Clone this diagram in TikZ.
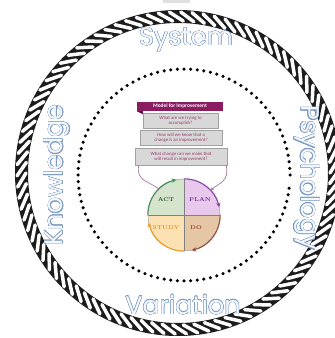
\documentclass[tikz,border=0pt]{standalone}
\usepackage{fontspec}
\usepackage{contour}
\usetikzlibrary{arrows.meta}
\newfontfamily\labelfont{Poppins}
\newfontfamily\boxfont{Carlito}

\definecolor{ropeink}{RGB}{28,28,28}
\definecolor{labelblue}{RGB}{125,155,195}
\definecolor{labelfill}{RGB}{244,247,252}
\definecolor{headpurple}{RGB}{139,28,98}
\definecolor{headfold}{RGB}{95,15,65}
\definecolor{qtext}{RGB}{150,60,110}
\definecolor{qfill}{RGB}{216,216,216}
\definecolor{qline}{RGB}{160,160,160}
\definecolor{actfill}{RGB}{213,228,205}
\definecolor{planfill}{RGB}{232,200,236}
\definecolor{studyfill}{RGB}{252,226,178}
\definecolor{dofill}{RGB}{229,199,165}
\definecolor{actline}{RGB}{70,140,90}
\definecolor{planline}{RGB}{140,70,170}
\definecolor{doline}{RGB}{150,80,60}
\definecolor{studyline}{RGB}{235,160,40}
\definecolor{acttext}{RGB}{40,90,50}
\definecolor{plantext}{RGB}{110,50,150}
\definecolor{studytext}{RGB}{230,150,40}
\definecolor{dotext}{RGB}{150,70,50}
\definecolor{linkcol}{RGB}{160,120,160}

\contourlength{0.4pt}

\tikzset{
  biglabel/.style={font=\labelfont\fontsize{25.5}{25.5}\selectfont, text=labelfill, inner sep=0pt},
  question/.style={draw=qline, fill=qfill, line width=0.5bp, inner sep=0pt,
    font=\boxfont\fontsize{4.8}{5.4}\selectfont, text=qtext, align=center},
  quadlabel/.style={font=\bfseries\fontsize{5.6}{5.6}\selectfont, inner sep=0pt},
  cyclearc/.style={line width=1.1bp, -{Stealth[length=4.5bp,width=4.5bp]}},
  link/.style={draw=linkcol, line width=0.7bp}
}

\begin{document}
\begin{tikzpicture}[x=1bp,y=1bp]
\useasboundingbox (0,0) rectangle (335,338);

% small grey tab at the top edge
\fill[gray!25] (163,335) rectangle (190,338);

% twisted rope ring: dark band with light slanted strands
\coordinate (rc) at (178,165);
\fill[ropeink, even odd rule] (rc) circle (163bp) (rc) circle (150bp);
\foreach \a in {0,4,...,356}
  \draw[shift={(rc)}, white, line width=3.5bp, line cap=round]
    (\a:152) -- (\a+5:161);

% dotted inner ring
\coordinate (dc) at (184,163);
\foreach \a in {0,3.6,...,356.4}
  \fill[shift={(dc)}, black] (\a:106) circle (1.75bp);

% outlined labels around the ring
\node[biglabel] (system) at (186,298) {\contour{labelblue}{System}};
\node[biglabel] (variation) at (183,33) {\contour{labelblue}{Variation}};
\node[biglabel, rotate=90] (knowledge) at (57,163) {\contour{labelblue}{Knowledge}};
\node[biglabel, rotate=-90] (psychology) at (307,160) {\contour{labelblue}{Psychology}};

% Model for Improvement header and questions
\node[fill=headpurple, minimum width=86bp, minimum height=9bp, inner sep=0pt,
  font=\boxfont\bfseries\fontsize{5.4}{5.4}\selectfont, text=white] (head) at (180,231.5) {Model for Improvement};
\fill[headfold] (head.south west) -- ++(6,0) -- ++(0,-3) -- cycle;
\node[question, minimum width=75bp, minimum height=15bp] (q1) at (180.5,217.5)
  {What are we trying to\\accomplish?};
\node[question, minimum width=82bp, minimum height=15bp] (q2) at (181,200.5)
  {How will we know that a\\change is an improvement?};
\node[question, minimum width=92bp, minimum height=17bp] (q3) at (181,181.5)
  {What change can we make that\\will result in improvement?};

% PDSA cycle
\node[circle, minimum size=72bp, inner sep=0pt] (pdsa) at (184,123) {};
\fill[actfill] (pdsa.center) -- (pdsa.west) arc (180:90:36bp) -- cycle;
\fill[planfill] (pdsa.center) -- (pdsa.north) arc (90:0:36bp) -- cycle;
\fill[dofill] (pdsa.center) -- (pdsa.east) arc (0:-90:36bp) -- cycle;
\fill[studyfill] (pdsa.center) -- (pdsa.south) arc (270:180:36bp) -- cycle;
\draw[gray, line width=0.6bp] (pdsa.north) -- (pdsa.south) (pdsa.west) -- (pdsa.east);
\draw[gray!70, line width=0.6bp] (pdsa.center) circle (36bp);

\draw[cyclearc, actline] (pdsa.180) arc (180:102:36bp);
\draw[cyclearc, planline] (pdsa.90) arc (90:12:36bp);
\draw[cyclearc, doline] (pdsa.0) arc (0:-78:36bp);
\draw[cyclearc, studyline] (pdsa.270) arc (270:192:36bp);

\node[quadlabel, text=acttext] (act) at (166,138) {ACT};
\node[quadlabel, text=plantext] (plan) at (200,138) {PLAN};
\node[quadlabel, text=studytext] (study) at (166,110) {STUDY};
\node[quadlabel, text=dotext] (do) at (196,110) {DO};

% links from the questions into the cycle
\draw[link] ([xshift=4bp]q3.south west) .. controls +(-3,-16) and +(-10,8) .. (pdsa.134);
\draw[link, -{Stealth[length=3.5bp,width=3.5bp]}] ([xshift=-1bp]q3.south east) .. controls +(3,-16) and +(10,8) .. (pdsa.43);
\end{tikzpicture}
\end{document}
